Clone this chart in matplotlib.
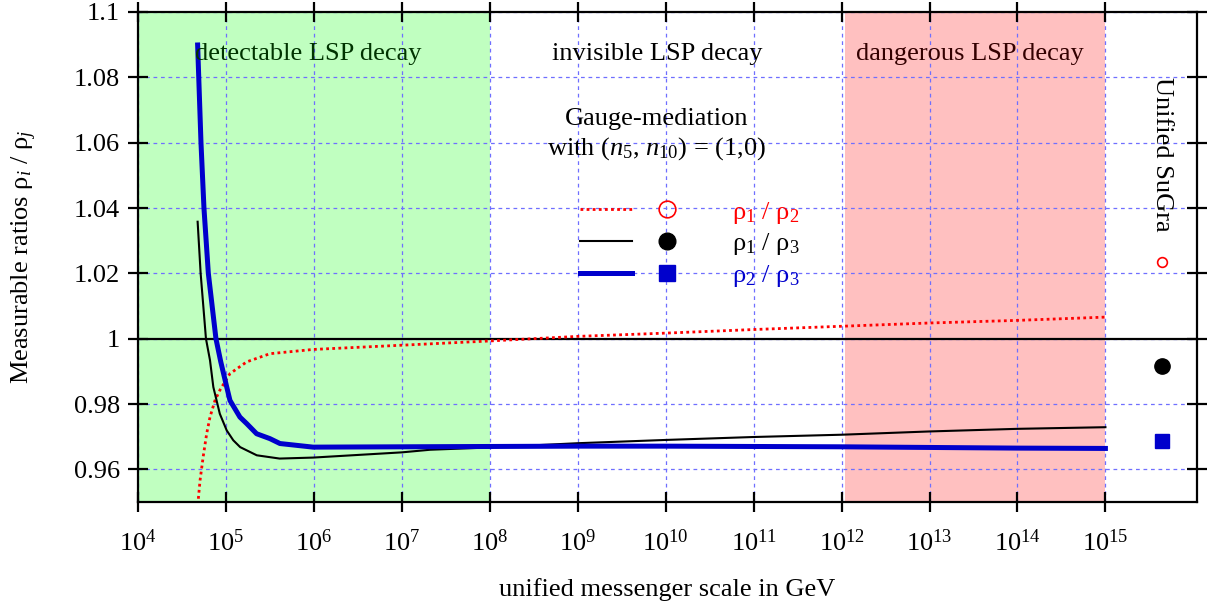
import matplotlib
matplotlib.use('Agg')
import matplotlib.pyplot as plt
from matplotlib.lines import Line2D
from matplotlib.legend_handler import HandlerTuple

plt.rcParams['font.family'] = ['Liberation Serif', 'DejaVu Serif']
plt.rcParams['mathtext.fontset'] = 'custom'
plt.rcParams['mathtext.rm'] = 'Liberation Serif'
plt.rcParams['mathtext.it'] = 'Liberation Serif:italic'
plt.rcParams['font.size'] = 19

# -- data ------------------------------------------------------
# rho_1 / rho_2 (red dotted)
x12 = [4.85e4, 5.07e4, 5.5e4, 6.03e4, 6.58e4, 7.5e4, 8.51e4, 1.11e5, 1.72e5,
       3.16e5, 9.77e5, 1e7, 1e8, 1e9, 1e10, 1e11, 1e12, 1e13, 1e14, 1e15]
y12 = [0.951, 0.9566, 0.9638, 0.9709, 0.976, 0.9811, 0.9842, 0.9893, 0.9929,
       0.9954, 0.9967, 0.9980, 0.9993, 1.0007, 1.0017, 1.0028, 1.0038, 1.0048,
       1.0056, 1.0066]

# rho_1 / rho_3 (black)
x13 = [4.76e4, 5.15e4, 5.92e4, 6.58e4, 7.18e4, 8.51e4, 1.02e5, 1.21e5, 1.45e5,
       2.24e5, 4.07e5, 9.77e5, 1e7, 2.1e7, 1e8, 1e9, 1e10, 1e11, 1e12, 1e13,
       1e14, 1e15]
y13 = [1.0358, 1.020, 1.000, 0.9934, 0.9852, 0.977, 0.9719, 0.9689, 0.9668,
       0.9643, 0.9633, 0.9636, 0.9652, 0.9660, 0.9667, 0.9680, 0.9690, 0.9699,
       0.9706, 0.9716, 0.9724, 0.9729]

# rho_2 / rho_3 (blue, thick)
x23 = [4.76e4, 5.2e4, 5.62e4, 6.3e4, 7.69e4, 8.71e4, 1.02e5, 1.11e5, 1.44e5,
       1.72e5, 2.23e5, 3.16e5, 4.11e5, 9.77e5, 1e7, 1e8, 1e9, 1e10, 1e11,
       1e12, 1e13, 1e14, 1e15]
y23 = [1.0899, 1.0598, 1.0399, 1.020, 1.000, 0.993, 0.9852, 0.9811, 0.976,
       0.974, 0.9709, 0.9694, 0.9679, 0.9668, 0.9669, 0.9670, 0.9671, 0.9671,
       0.9670, 0.9669, 0.9667, 0.9665, 0.9664]

# unified SuGra points
x_sugra = 4.4e15
y_sugra = [1.0234, 0.9915, 0.9686]

xtick_vals = [1e4, 1e5, 1e6, 1e7, 1e8, 1e9, 1e10, 1e11, 1e12, 1e13, 1e14, 1e15]
xtick_labels = ['$10^{%d}$' % e for e in range(4, 16)]
ytick_vals = [0.96, 0.98, 1.0, 1.02, 1.04, 1.06, 1.08, 1.1]
ytick_labels = ['0.96', '0.98', '1', '1.02', '1.04', '1.06', '1.08', '1.1']

regions = [(1e4, 1e8), (1.1e12, 1e15)]

# -- figure -----------------------------------------------------
fig = plt.figure(figsize=(12.13, 6.06), dpi=100)
ax = fig.add_axes([0.1138, 0.1716, 0.8730, 0.8086])

ax.axvspan(regions[0][0], regions[0][1], color='#c0ffc0', lw=0, zorder=0)
ax.axvspan(regions[1][0], regions[1][1], color='#ffc0c0', lw=0, zorder=0)

ax.axhline(1.0, color='black', lw=1.6, zorder=1.8)

ax.plot(x12, y12, color='red', lw=2.0, linestyle=(0, (1, 1.2)), zorder=3)
ax.plot(x13, y13, color='black', lw=1.5, zorder=3)
ax.plot(x23, y23, color='#0000cc', lw=3.6, zorder=3)

ax.plot(x_sugra, y_sugra[0], 'o', mfc='none', mec='red', ms=7, mew=1.2, zorder=4)
ax.plot(x_sugra, y_sugra[1], 'o', color='black', ms=11, zorder=4)
ax.plot(x_sugra, y_sugra[2], 's', color='#0000cc', ms=10, zorder=4)

ax.set_xscale('log')
ax.set_xlim(1e4, 1.1e16)
ax.set_ylim(0.95, 1.1)
ax.set_xticks(xtick_vals)
ax.set_xticklabels(xtick_labels)
ax.minorticks_off()
ax.set_yticks(ytick_vals)
ax.set_yticklabels(ytick_labels)

ax.tick_params(which='both', direction='inout', length=14, width=1.6,
               top=True, right=True, labelsize=19)
ax.tick_params(axis='x', pad=13)
ax.tick_params(axis='y', pad=6)
for s in ax.spines.values():
    s.set_linewidth(1.6)

ax.grid(True, color='#6f6fff', linestyle=(0, (3, 3)), lw=0.9)

ax.set_xlabel('unified messenger scale in GeV', labelpad=16)
ax.set_ylabel(r'Measurable ratios ρ$_i$ / ρ$_j$', labelpad=25)

ax.text(0.161, 0.915, 'detectable LSP decay', color='#003300',
        transform=ax.transAxes, ha='center', va='center')
ax.text(0.490, 0.915, 'invisible LSP decay', color='black',
        transform=ax.transAxes, ha='center', va='center')
ax.text(0.786, 0.915, 'dangerous LSP decay', color='#330000',
        transform=ax.transAxes, ha='center', va='center')
ax.text(0.490, 0.781, 'Gauge-mediation', transform=ax.transAxes,
        ha='center', va='center')
ax.text(0.490, 0.722, r'with ($n_5$, $n_{10}$) = (1,0)', transform=ax.transAxes,
        ha='center', va='center')
ax.text(0.967, 0.710, 'Unified SuGra', rotation=-90, transform=ax.transAxes,
        ha='center', va='center')

# -- legend -----------------------------------------------------
h12 = (Line2D([], [], color='red', lw=2.0, linestyle=(0, (1, 1.2))),
       Line2D([], [], ls='none', marker='o', mfc='none', mec='red', ms=12, mew=1.2))
h13 = (Line2D([], [], color='black', lw=1.5),
       Line2D([], [], ls='none', marker='o', color='black', ms=12))
h23 = (Line2D([], [], color='#0000cc', lw=3.6),
       Line2D([], [], ls='none', marker='s', color='#0000cc', ms=11))
labels = [r'ρ$_1$ / ρ$_2$', r'ρ$_1$ / ρ$_3$', r'ρ$_2$ / ρ$_3$']
leg = ax.legend([h12, h13, h23], labels,
                handler_map={tuple: HandlerTuple(ndivide=None, pad=0.34)},
                loc='upper left', bbox_to_anchor=(0.417, 0.617),
                frameon=False, borderpad=0, borderaxespad=0,
                handlelength=4.28, handletextpad=1.48, labelspacing=0.22,
                fontsize=19)
for t, c in zip(leg.get_texts(), ['red', 'black', '#0000cc']):
    t.set_color(c)

fig.savefig('out.png', dpi=100)
